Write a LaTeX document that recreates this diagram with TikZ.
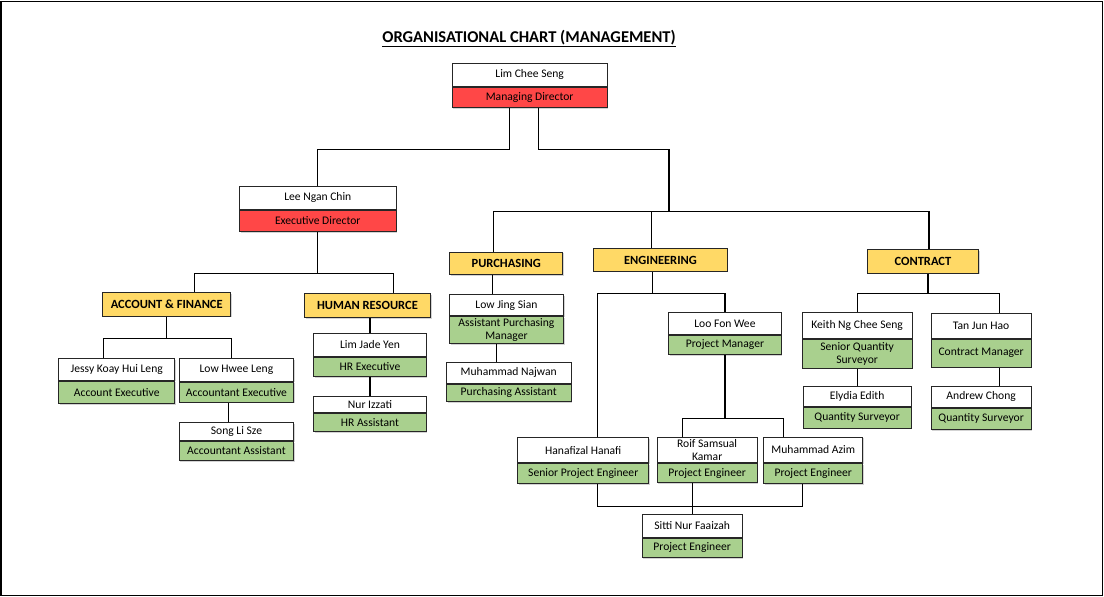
\documentclass[tikz,border=0pt]{standalone}
\usepackage{fontspec}
\setmainfont{Carlito}
\usetikzlibrary{positioning, calc, shadows}

\definecolor{mdred}{HTML}{FF4747}
\definecolor{deptgold}{HTML}{FFD966}
\definecolor{rolegreen}{HTML}{A9D08E}

\tikzset{
  orgbox/.style={draw=black!85, line width=0.9pt, inner sep=0pt, anchor=north west, align=center,
    font=\fontsize{11.6}{12.6}\selectfont,
    drop shadow={shadow xshift=1.2pt, shadow yshift=-1.2pt, opacity=0.35}},
  namebox/.style={orgbox, fill=white},
  rolebox/.style={orgbox, fill=rolegreen},
  headbox/.style={orgbox, fill=mdred},
  deptbox/.style={orgbox, fill=deptgold, font=\fontsize{12.5}{14}\selectfont\bfseries},
  link/.style={line width=1.1pt, black}
}

\begin{document}
\begin{tikzpicture}[x=1pt, y=1pt]

\useasboundingbox (0,0) rectangle (1104,-597);
\draw [line width=1.3pt] (0.9,-1.4) rectangle (1102.3,-595.6);

\node [anchor=base, font=\fontsize{16.5}{19}\selectfont\bfseries] (title) at (529,-42) {\underline{ORGANISATIONAL CHART (MANAGEMENT)}};

% directors
\node [namebox, minimum width=155pt, minimum height=22.4pt] (md) at (451.7,-63.3) {Lim Chee Seng};
\node [headbox, minimum width=155pt, minimum height=20.3pt] (md-r) at (md.south west) {Managing Director};
\node [namebox, minimum width=156.7pt, minimum height=23pt] (lee) at (239,-186) {Lee Ngan Chin};
\node [headbox, minimum width=156.7pt, minimum height=21pt] (lee-r) at (lee.south west) {Executive Director};

% departments
\node [deptbox, minimum width=128pt, minimum height=23.4pt] (accf) at (102.3,-292.3) {ACCOUNT \& FINANCE};
\node [deptbox, minimum width=126pt, minimum height=24pt] (hr) at (304,-293.3) {HUMAN RESOURCE};
\node [deptbox, minimum width=113pt, minimum height=22.6pt] (purch) at (449.3,-251.5) {PURCHASING};
\node [deptbox, minimum width=133.4pt, minimum height=22.4pt] (eng) at (593.3,-248.3) {ENGINEERING};
\node [deptbox, minimum width=111.6pt, minimum height=23.4pt] (contr) at (866.7,-249.3) {CONTRACT};

% account & finance
\node [namebox, minimum width=116pt, minimum height=21.4pt] (jessy) at (58.3,-358.3) {Jessy Koay Hui Leng};
\node [rolebox, minimum width=116pt, minimum height=22.6pt] (jessy-r) at (jessy.south west) {Account Executive};
\node [namebox, minimum width=114.6pt, minimum height=22.4pt] (lowhwee) at (178.7,-358.3) {Low Hwee Leng};
\node [rolebox, minimum width=114.6pt, minimum height=20pt] (lowhwee-r) at (lowhwee.south west) {Accountant Executive};
\node [namebox, minimum width=114.6pt, minimum height=18pt] (song) at (178.7,-422.3) {Song Li Sze};
\node [rolebox, minimum width=114.6pt, minimum height=18.7pt] (song-r) at (song.south west) {Accountant Assistant};

% human resource
\node [namebox, minimum width=112.4pt, minimum height=22.4pt] (jade) at (313.3,-333.3) {Lim Jade Yen};
\node [rolebox, minimum width=112.4pt, minimum height=19.3pt] (jade-r) at (jade.south west) {HR Executive};
\node [namebox, minimum width=112.4pt, minimum height=15.7pt] (izzati) at (313.3,-396) {Nur Izzati};
\node [rolebox, minimum width=112.4pt, minimum height=18.3pt] (izzati-r) at (izzati.south west) {HR Assistant};

% purchasing
\node [namebox, minimum width=114pt, minimum height=21pt] (jing) at (449,-294.3) {Low Jing Sian};
\node [rolebox, minimum width=114pt, minimum height=27pt] (jing-r) at (jing.south west) {Assistant Purchasing\\Manager};
\node [namebox, minimum width=124.5pt, minimum height=21pt] (najwan) at (446,-361.7) {Muhammad Najwan};
\node [rolebox, minimum width=124.5pt, minimum height=17.6pt] (najwan-r) at (najwan.south west) {Purchasing Assistant};

% engineering
\node [namebox, minimum width=112.4pt, minimum height=21.4pt] (loo) at (668.3,-312.3) {Loo Fon Wee};
\node [rolebox, minimum width=112.4pt, minimum height=19.6pt] (loo-r) at (loo.south west) {Project Manager};
\node [namebox, minimum width=131pt, minimum height=25pt] (hanafizal) at (517.3,-437.3) {Hanafizal Hanafi};
\node [rolebox, minimum width=131pt, minimum height=20pt] (hanafizal-r) at (hanafizal.south west) {Senior Project Engineer};
\node [namebox, minimum width=100pt, minimum height=25pt] (roif) at (656.7,-437.3) {Roif Samsual\\Kamar};
\node [rolebox, minimum width=100pt, minimum height=19pt] (roif-r) at (roif.south west) {Project Engineer};
\node [namebox, minimum width=99pt, minimum height=25.6pt] (azim) at (763.3,-436.7) {Muhammad Azim};
\node [rolebox, minimum width=99pt, minimum height=20pt] (azim-r) at (azim.south west) {Project Engineer};
\node [namebox, minimum width=100pt, minimum height=22.7pt] (sitti) at (641.7,-514) {Sitti Nur Faaizah};
\node [rolebox, minimum width=100pt, minimum height=19.3pt] (sitti-r) at (sitti.south west) {Project Engineer};

% contract
\node [namebox, minimum width=110pt, minimum height=26.6pt] (keith) at (801.7,-311.7) {Keith Ng Chee Seng};
\node [rolebox, minimum width=110pt, minimum height=28.4pt] (keith-r) at (keith.south west) {Senior Quantity\\Surveyor};
\node [namebox, minimum width=108pt, minimum height=19.7pt] (elydia) at (802.7,-386) {Elydia Edith};
\node [rolebox, minimum width=108pt, minimum height=21pt] (elydia-r) at (elydia.south west) {Quantity Surveyor};
\node [namebox, minimum width=100pt, minimum height=24.4pt] (tan) at (930.7,-313.3) {Tan Jun Hao};
\node [rolebox, minimum width=100pt, minimum height=28pt] (tan-r) at (tan.south west) {Contract Manager};
\node [namebox, minimum width=100pt, minimum height=20.7pt] (andrew) at (930.7,-386) {Andrew Chong};
\node [rolebox, minimum width=100pt, minimum height=21.6pt] (andrew-r) at (andrew.south west) {Quantity Surveyor};

% connectors
\coordinate (deptbus) at (669,-211.4);
\draw [link] ([xshift=-20pt]md-r.south) -- ++(0,-42) -| (lee.north);
\draw [link] ([xshift=9pt]md-r.south) -- ++(0,-42) -| (deptbus);
\draw [link] ([xshift=-13pt]purch.north) |- (deptbus) -| ([xshift=6pt]contr.north);
\draw [link] ([xshift=-9pt]eng.north) -- ([xshift=-9pt]eng.north |- deptbus);

\draw [link] (lee-r.south) -- ++(0,-42) coordinate (leebus);
\draw [link] ([xshift=28pt]accf.north) |- (leebus) -| ([xshift=26pt]hr.north);

\draw [link] (accf.south) -- ++(0,-21.6) coordinate (accbus);
\draw [link] ([xshift=-13pt]jessy.north) |- (accbus) -| ([xshift=-5pt]lowhwee.north);
\draw [link] ([xshift=-8pt]song.north) -- ([xshift=-8pt]song.north |- lowhwee-r.south);

\draw [link] (jade.north) -- (jade.north |- hr.south);
\draw [link] (izzati.north) -- (izzati.north |- jade-r.south);

\draw [link] ([xshift=-14pt]jing.north) -- ([xshift=-14pt]jing.north |- purch.south);
\draw [link] ([xshift=-12pt]najwan.north) -- ([xshift=-12pt]najwan.north |- jing-r.south);

\draw [link] ([xshift=-8pt]eng.south) -- ++(0,-21.6) coordinate (engbus);
\draw [link] ([xshift=14pt]hanafizal.north) |- (engbus) -| (loo.north);
\draw [link] (loo-r.south) -- ++(0,-63.4) coordinate (loobus);
\draw [link] ([xshift=-25pt]roif.north) |- (loobus) -| ([xshift=-30pt]azim.north);
\draw [link] ([xshift=14pt]hanafizal-r.south) -- ++(0,-22.7) -| ([xshift=-11pt]azim-r.south);
\draw [link] (sitti.north) -- (sitti.north |- roif-r.south);

\draw [link] ([xshift=5pt]contr.south) -- ++(0,-20) coordinate (conbus);
\draw [link] (keith.north) |- (conbus) -| ([xshift=18pt]tan.north);
\draw [link] (elydia.north) -- (elydia.north |- keith-r.south);
\draw [link] ([xshift=18pt]andrew.north) -- ([xshift=18pt]andrew.north |- tan-r.south);

\end{tikzpicture}
\end{document}
